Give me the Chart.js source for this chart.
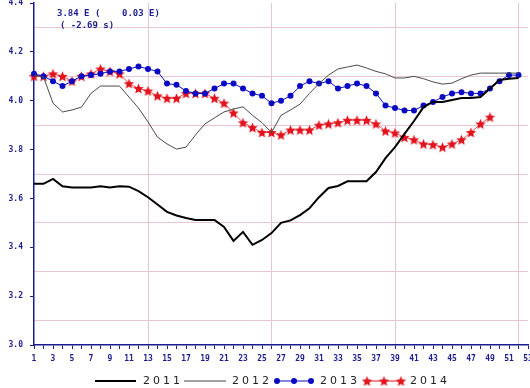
<!DOCTYPE html>
<html>
<head>
<meta charset="utf-8">
<script src="https://cdn.jsdelivr.net/npm/chart.js@4.4.0/dist/chart.umd.min.js"></script>
<style>
    body { margin: 0; background: #ffffff; }
    canvas { display: block; }
</style>
</head>
<body>
<canvas id="graficoSemanas" width="530" height="388"></canvas>
<script>
// semanas do ano (eixo x)
const semanas = [1, 2, 3, 4, 5, 6, 7, 8, 9, 10, 11, 12, 13, 14, 15, 16, 17, 18, 19, 20,
    21, 22, 23, 24, 25, 26, 27, 28, 29, 30, 31, 32, 33, 34, 35, 36, 37, 38, 39, 40,
    41, 42, 43, 44, 45, 46, 47, 48, 49, 50, 51, 52, 53];

const anos = ["2011", "2012", "2013", "2014"];

const valores2011 = [3.66, 3.66, 3.68, 3.65, 3.645, 3.645, 3.645, 3.65, 3.645, 3.65,
    3.648, 3.63, 3.605, 3.575, 3.545, 3.53, 3.52, 3.512, 3.512, 3.512,
    3.483, 3.426, 3.463, 3.41, 3.43, 3.458, 3.50, 3.51, 3.532, 3.56,
    3.605, 3.643, 3.651, 3.67, 3.67, 3.67, 3.708, 3.765, 3.81, 3.864,
    3.917, 3.974, 3.995, 3.995, 4.003, 4.011, 4.011, 4.015, 4.05, 4.085,
    4.09, 4.093, null];

const valores2012 = [4.105, 4.097, 3.99, 3.954, 3.962, 3.974, 4.03, 4.06, 4.06, 4.06,
    4.015, 3.97, 3.913, 3.851, 3.823, 3.802, 3.81, 3.86, 3.905, 3.93,
    3.954, 3.966, 3.975, 3.94, 3.91, 3.87, 3.94, 3.962, 3.986, 4.03,
    4.07, 4.105, 4.13, 4.138, 4.146, 4.134, 4.12, 4.11, 4.093, 4.093,
    4.10, 4.09, 4.077, 4.068, 4.072, 4.09, 4.105, 4.113, 4.113, 4.113,
    4.113, 4.113, null];

const valores2013 = [4.11, 4.10, 4.08, 4.06, 4.08, 4.10, 4.105, 4.11, 4.12, 4.12,
    4.13, 4.14, 4.13, 4.12, 4.07, 4.065, 4.04, 4.03, 4.03, 4.05,
    4.07, 4.07, 4.05, 4.03, 4.02, 3.99, 4.00, 4.02, 4.06, 4.08,
    4.07, 4.08, 4.05, 4.06, 4.07, 4.06, 4.03, 3.98, 3.97, 3.96,
    3.96, 3.98, 3.995, 4.015, 4.03, 4.035, 4.03, 4.03, 4.05, 4.08,
    4.105, 4.105, null];

const valores2014 = [4.10, 4.10, 4.11, 4.10, 4.08, 4.10, 4.11, 4.13, 4.12, 4.11,
    4.07, 4.05, 4.04, 4.02, 4.01, 4.01, 4.03, 4.03, 4.03, 4.01,
    3.99, 3.95, 3.91, 3.89, 3.87, 3.87, 3.86, 3.88, 3.88, 3.88,
    3.90, 3.905, 3.91, 3.92, 3.92, 3.92, 3.905, 3.876, 3.868, 3.85,
    3.84, 3.823, 3.82, 3.81, 3.823, 3.84, 3.87, 3.905, 3.933, null,
    null, null, null];

// semanas com linha vertical de grade (fim de trimestre)
const semanasGrade = [13, 26, 39, 52];

// texto do canto superior
const textoResumo = ["3.84 E (    0.03 E)", "( -2.69 s)"];

const AZUL_EIXO = "#1c1c8f";
const ROSA_GRADE = "#e6c6d0";
const AZUL = "#0a0ac4";
const VERMELHO = "#e3121c";

function criarEstrela(raio, cor) {
    const tam = Math.ceil(raio * 2) + 2;
    const c = document.createElement("canvas");
    c.width = tam;
    c.height = tam;
    const g = c.getContext("2d");
    g.fillStyle = cor;
    g.beginPath();
    for (let i = 0; i < 10; i++) {
        const r = i % 2 === 0 ? raio : raio * 0.45;
        const a = -Math.PI / 2 + i * Math.PI / 5;
        const px = tam / 2 + r * Math.cos(a);
        const py = tam / 2 + r * Math.sin(a) + 0.5;
        if (i === 0) g.moveTo(px, py); else g.lineTo(px, py);
    }
    g.closePath();
    g.fill();
    return c;
}

const estrela = criarEstrela(5.5, VERMELHO);

// texto do canto + legenda desenhados depois do grafico
const pluginExtras = {
    id: "extras",
    afterDraw(chart) {
        const ctx = chart.ctx;
        ctx.save();
        ctx.fillStyle = AZUL_EIXO;
        ctx.font = "bold 9px 'DejaVu Sans Mono'";
        ctx.textBaseline = "middle";
        ctx.fillText(textoResumo[0], 57, 14);
        ctx.fillText(textoResumo[1], 60, 26);

        // legenda
        const y = 381;
        ctx.font = "11px 'DejaVu Sans'";
        ctx.fillStyle = "#222";
        if ("letterSpacing" in ctx) ctx.letterSpacing = "3px";

        ctx.strokeStyle = "#000";
        ctx.lineWidth = 2;
        ctx.beginPath(); ctx.moveTo(95, y); ctx.lineTo(136, y); ctx.stroke();
        ctx.fillText(anos[0], 143, y);

        ctx.strokeStyle = "#444";
        ctx.lineWidth = 1;
        ctx.beginPath(); ctx.moveTo(184, y); ctx.lineTo(226, y); ctx.stroke();
        ctx.fillText(anos[1], 232, y);

        ctx.strokeStyle = AZUL;
        ctx.beginPath(); ctx.moveTo(277, y); ctx.lineTo(311, y); ctx.stroke();
        ctx.fillStyle = AZUL;
        [277, 294, 311].forEach(function (px) {
            ctx.beginPath(); ctx.arc(px, y, 3, 0, Math.PI * 2); ctx.fill();
        });
        ctx.fillStyle = "#222";
        ctx.fillText(anos[2], 320, y);

        ctx.strokeStyle = VERMELHO;
        ctx.beginPath(); ctx.moveTo(367, y); ctx.lineTo(401, y); ctx.stroke();
        [367, 384, 401].forEach(function (px) {
            ctx.drawImage(estrela, px - estrela.width / 2, y - estrela.height / 2);
        });
        ctx.fillText(anos[3], 410, y);
        ctx.restore();
    }
};

const ctx = document.getElementById("graficoSemanas").getContext("2d");

new Chart(ctx, {
    type: "line",
    data: {
        labels: semanas,
        datasets: [
            {
                label: anos[0],
                data: valores2011,
                borderColor: "#000",
                borderWidth: 2,
                pointRadius: 0,
                tension: 0
            },
            {
                label: anos[1],
                data: valores2012,
                borderColor: "#4a4a4a",
                borderWidth: 1,
                pointRadius: 0,
                tension: 0
            },
            {
                label: anos[2],
                data: valores2013,
                borderColor: AZUL,
                borderWidth: 1,
                backgroundColor: AZUL,
                pointBackgroundColor: AZUL,
                pointBorderWidth: 0,
                pointRadius: 3,
                tension: 0
            },
            {
                label: anos[3],
                data: valores2014,
                borderColor: "#e8505c",
                borderWidth: 1,
                pointStyle: estrela,
                pointRadius: 5,
                tension: 0
            }
        ]
    },
    options: {
        responsive: false,
        animation: false,
        devicePixelRatio: 1,
        layout: {
            autoPadding: false,
            padding: { top: 3, right: 2, bottom: 25, left: 0 }
        },
        plugins: {
            legend: { display: false },
            tooltip: { enabled: false }
        },
        scales: {
            x: {
                type: "category",
                offset: false,
                border: { color: AZUL_EIXO, width: 1.5 },
                grid: {
                    color: function (c) {
                        return semanasGrade.includes(semanas[c.index]) ? ROSA_GRADE : "rgba(0,0,0,0)";
                    },
                    tickColor: AZUL_EIXO,
                    tickLength: 4,
                    lineWidth: 1
                },
                ticks: {
                    autoSkip: false,
                    maxRotation: 0,
                    padding: 5,
                    color: AZUL_EIXO,
                    font: { family: "'DejaVu Sans Mono'", size: 8, weight: "bold" },
                    callback: function (valor, indice) {
                        return indice % 2 === 0 ? String(semanas[indice]) : "";
                    }
                },
                afterFit: function (escala) {
                    escala.height = 18;
                    escala.paddingRight = 0;
                    escala.paddingLeft = 0;
                }
            },
            y: {
                min: 3.0,
                max: 4.4,
                border: { color: AZUL_EIXO, width: 1.5 },
                grid: {
                    color: function (c) {
                        const d = Math.round(c.tick.value * 10);
                        return d % 2 === 1 ? ROSA_GRADE : "rgba(0,0,0,0)";
                    },
                    tickColor: function (c) {
                        const d = Math.round(c.tick.value * 10);
                        return d % 2 === 0 ? AZUL_EIXO : "rgba(0,0,0,0)";
                    },
                    tickLength: 4,
                    lineWidth: 1
                },
                ticks: {
                    stepSize: 0.1,
                    padding: 7,
                    color: AZUL_EIXO,
                    font: { family: "'DejaVu Sans Mono'", size: 8, weight: "bold" },
                    callback: function (valor) {
                        const d = Math.round(valor * 10);
                        return d % 2 === 0 ? (d / 10).toFixed(1) : "";
                    }
                },
                afterFit: function (escala) {
                    escala.width = 34;
                    escala.paddingTop = 0;
                    escala.paddingBottom = 0;
                }
            }
        }
    },
    plugins: [pluginExtras]
});
</script>
</body>
</html>
